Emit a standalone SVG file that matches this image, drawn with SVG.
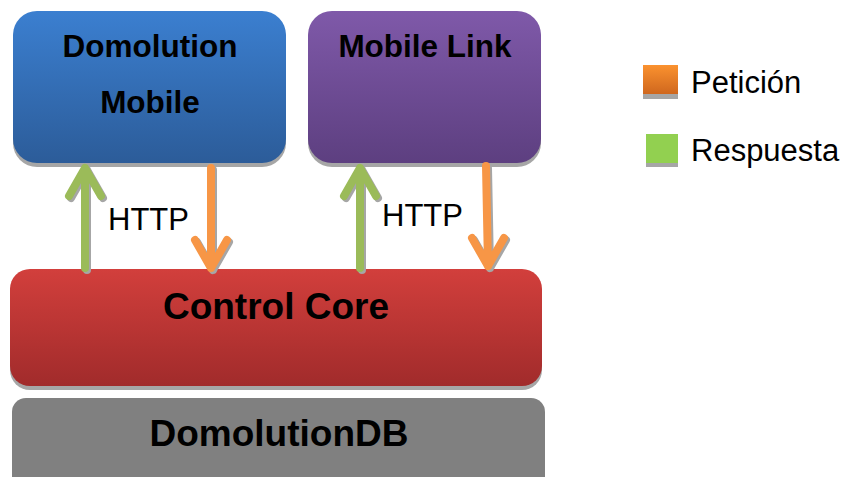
<svg xmlns="http://www.w3.org/2000/svg" width="846" height="477" viewBox="0 0 846 477">
<defs>
<linearGradient id="gBlue" x1="0" y1="0" x2="0" y2="1"><stop offset="0" stop-color="#3b7fd0"/><stop offset="1" stop-color="#2c5c99"/></linearGradient>
<linearGradient id="gPurple" x1="0" y1="0" x2="0" y2="1"><stop offset="0" stop-color="#7f59a9"/><stop offset="1" stop-color="#5d3f80"/></linearGradient>
<linearGradient id="gRed" x1="0" y1="0" x2="0" y2="1"><stop offset="0" stop-color="#d23f3c"/><stop offset="1" stop-color="#a12b2b"/></linearGradient>
<linearGradient id="gOrange" x1="0" y1="0" x2="0" y2="1"><stop offset="0" stop-color="#fb922f"/><stop offset="1" stop-color="#cf671e"/></linearGradient>
</defs>
<style>
.shadow{fill:#a6a6a6}
.title{font-family:"Liberation Sans",Arial,sans-serif;font-weight:bold;fill:#000;text-anchor:middle}
.lbl{font-family:"Liberation Sans",Arial,sans-serif;fill:#000;font-size:31px}
.green{stroke:#9bbb59;stroke-width:8;fill:none;stroke-linecap:round;stroke-linejoin:round}
.orange{stroke:#f79646;stroke-width:8;fill:none;stroke-linecap:round;stroke-linejoin:round}
.ash{stroke:#a6a6a6;stroke-width:8;fill:none;stroke-linecap:round;stroke-linejoin:round}
</style>
<rect width="846" height="477" fill="#fff"/>

<g id="domolution-mobile">
<rect class="shadow" x="13" y="15" width="273" height="152" rx="24"/>
<rect x="13" y="11" width="273" height="152" rx="24" fill="url(#gBlue)"/>
<text class="title" x="150" y="57" font-size="31.5">Domolution</text>
<text class="title" x="150" y="113" font-size="31.5">Mobile</text>
</g>

<g id="mobile-link">
<rect class="shadow" x="308" y="15" width="233" height="152" rx="24"/>
<rect x="308" y="11" width="233" height="152" rx="24" fill="url(#gPurple)"/>
<text class="title" x="425" y="57" font-size="31.5">Mobile Link</text>
</g>

<g id="control-core">
<rect class="shadow" x="10" y="273" width="532" height="117" rx="20"/>
<rect x="10" y="269" width="532" height="117" rx="20" fill="url(#gRed)"/>
<text class="title" x="276" y="319" font-size="37">Control Core</text>
</g>

<g id="domolution-db">
<rect x="12" y="398" width="533" height="100" rx="14" fill="#808080"/>
<text class="title" x="279" y="446" font-size="37">DomolutionDB</text>
</g>

<g id="connectors">
<path class="ash" d="M87 270 V170 M71 198 L87 170 L103 198"/>
<path class="ash" d="M213 170 V270 M197 242 L213 270 L229 242"/>
<path class="ash" d="M362 270 V170 M346 198 L362 170 L378 198"/>
<path class="ash" d="M488 168 L490 268 M474 240 L490 268 L506 240"/>
<path class="green" d="M85 268 V168 M69 196 L85 168 L101 196"/>
<path class="orange" d="M211 168 V268 M195 240 L211 268 L227 240"/>
<path class="green" d="M360 268 V168 M344 196 L360 168 L376 196"/>
<path class="orange" d="M486 166 L488 266 M472 238 L488 266 L504 238"/>
<text class="lbl" x="108" y="230">HTTP</text>
<text class="lbl" x="382" y="226">HTTP</text>
</g>

<g id="legend">
<rect class="shadow" x="643" y="69" width="35" height="30"/>
<rect x="643" y="65" width="35" height="29" fill="url(#gOrange)"/>
<text class="lbl" x="691" y="93">Petición</text>
<rect class="shadow" x="646" y="138" width="32" height="29"/>
<rect x="646" y="134" width="32" height="29" fill="#92d050"/>
<text class="lbl" x="691" y="161">Respuesta</text>
</g>
</svg>
